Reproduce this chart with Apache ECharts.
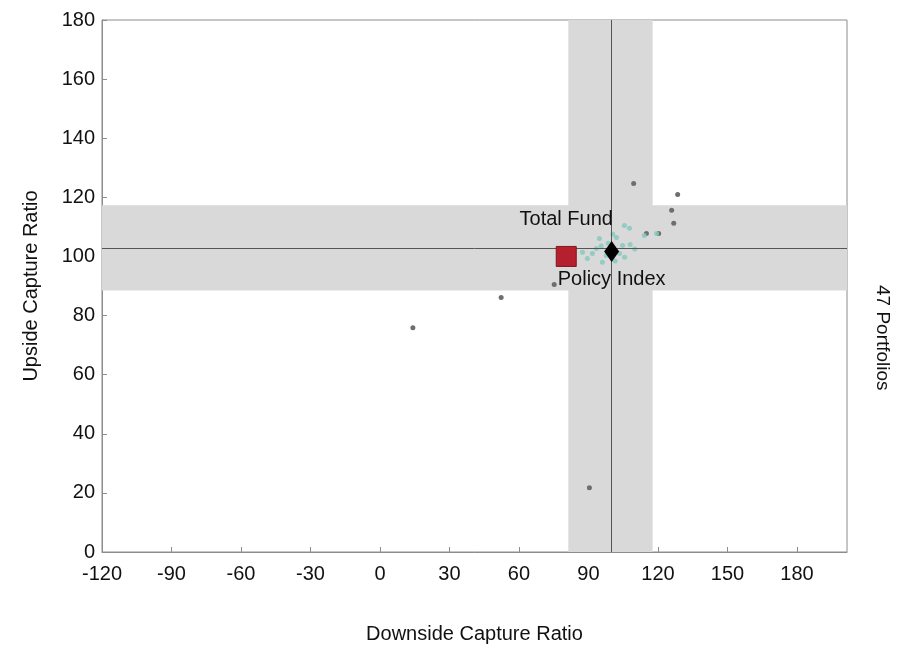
<!DOCTYPE html>
<html>
<head>
<meta charset="utf-8">
<script src="https://cdn.jsdelivr.net/npm/echarts@6/dist/echarts.min.js"></script>
<style>
  html, body { margin: 0; padding: 0; background: #fff; }
  #main { width: 907px; height: 650px; }
</style>
</head>
<body>
<div id="main"></div>
<script>
(function(){
    'use strict';
    // portfolios far from the index (grey dots)
    var outerPoints = [
        [109.5, 124.7], [128.5, 121], [125.9, 115.6], [126.8, 111.2],
        [115, 107.8], [120.3, 107.8], [52.3, 86.1], [14.2, 75.9],
        [90.4, 21.7], [75.2, 90.5]
    ];
    // portfolios clustered around the index (teal dots)
    var clusterPoints = [
        [105.5, 110.5], [107.7, 109.5], [102.1, 106.4], [94.7, 106.1],
        [93.4, 102.7], [91.7, 101], [89.5, 99.3], [87.4, 101.4],
        [104.7, 103.7], [105.6, 99.7], [103.4, 101], [97.7, 100.3],
        [114.1, 107.1], [119.4, 107.8], [98.5, 104.5], [101.5, 98.5],
        [96, 98], [108, 104], [110, 102.5], [100.5, 107.5], [95.5, 103.5]
    ];
    var totalFund = [80.4, 100];
    var policyIndex = [100, 101.7];
    var policyLines = { x: 100, y: 102.7 };
    var bandX = [81.3, 117.7];   // downside range band
    var bandY = [88.5, 117.3];   // upside range band
    var portfolioCount = 47;

    var font = 'Liberation Sans, Arial, sans-serif';
    var txt = '#111';
    var myChart = echarts.init(document.getElementById('main'));

    var option = {
        backgroundColor: '#fff',
        animation: false,
        textStyle: { fontFamily: font },
        grid: {
            left: 102, right: 60, top: 20, bottom: 98,
            show: true, borderColor: '#8c8c8c', borderWidth: 1
        },
        graphic: [{
            type: 'text',
            left: 873, top: 285,
            rotation: -Math.PI / 2,
            style: {
                text: portfolioCount + ' Portfolios',
                font: '19px ' + font,
                fill: txt,
                textAlign: 'center',
                textVerticalAlign: 'middle'
            }
        }],
        xAxis: {
            type: 'value',
            min: -120, max: 201.6, interval: 30,
            name: 'Downside Capture Ratio',
            nameLocation: 'middle', nameGap: 72,
            nameTextStyle: { fontSize: 20, color: txt, fontFamily: font },
            splitLine: { show: false },
            axisLine: { onZero: false, lineStyle: { color: '#8c8c8c' } },
            axisTick: { inside: true, length: 5, lineStyle: { color: '#8c8c8c' } },
            axisLabel: { fontSize: 20, color: txt, margin: 12, showMaxLabel: false, fontFamily: font }
        },
        yAxis: {
            type: 'value',
            min: 0, max: 180, interval: 20,
            name: 'Upside Capture Ratio',
            nameLocation: 'middle', nameGap: 61,
            nameTextStyle: { fontSize: 20, color: txt, fontFamily: font },
            splitLine: { show: false },
            axisLine: { onZero: false, lineStyle: { color: '#8c8c8c' } },
            axisTick: { inside: true, length: 5, lineStyle: { color: '#8c8c8c' } },
            axisLabel: { fontSize: 20, color: txt, margin: 7, fontFamily: font }
        },
        series: [
            {
                // shaded bands and reference lines
                type: 'scatter',
                data: [],
                silent: true,
                markArea: {
                    silent: true,
                    itemStyle: { color: '#d9d9d9', opacity: 1 },
                    data: [
                        [{ yAxis: bandY[0], xAxis: 'min' }, { yAxis: bandY[1], xAxis: 'max' }],
                        [{ xAxis: bandX[0], yAxis: 'min' }, { xAxis: bandX[1], yAxis: 'max' }]
                    ]
                },
                markLine: {
                    silent: true,
                    symbol: 'none',
                    label: { show: false },
                    lineStyle: { color: '#555', width: 1, type: 'solid' },
                    data: [{ xAxis: policyLines.x }, { yAxis: policyLines.y }]
                }
            },
            {
                type: 'scatter',
                data: outerPoints,
                symbolSize: 5,
                itemStyle: { color: '#6e6e6e', opacity: 1 }
            },
            {
                type: 'scatter',
                data: clusterPoints,
                symbolSize: 5,
                itemStyle: { color: '#86c9bd', opacity: 0.85 }
            },
            {
                type: 'scatter',
                data: [totalFund],
                symbol: 'rect',
                symbolSize: 20,
                itemStyle: { color: '#b61f2d', borderColor: '#7d1820', borderWidth: 1, opacity: 1 },
                label: {
                    show: true, position: 'top', distance: 16,
                    formatter: 'Total Fund', fontSize: 20, color: txt, fontFamily: font
                },
                z: 5
            },
            {
                type: 'scatter',
                data: [policyIndex],
                symbol: 'diamond',
                symbolSize: [15, 21],
                itemStyle: { color: '#000', opacity: 1 },
                label: {
                    show: true, position: 'bottom', distance: 8,
                    formatter: 'Policy Index', fontSize: 20, color: txt, fontFamily: font
                },
                z: 6
            }
        ]
    };
    myChart.setOption(option);
})();
</script>
</body>
</html>
